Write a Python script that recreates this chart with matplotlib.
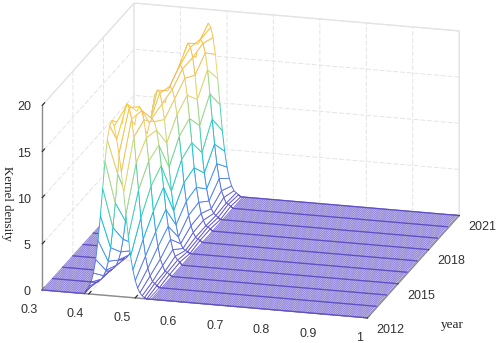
import numpy as np
import matplotlib
matplotlib.use("Agg")
import matplotlib.pyplot as plt
from matplotlib.colors import LinearSegmentedColormap, to_rgba

years = [2012, 2013, 2014, 2015, 2016, 2017, 2018, 2019, 2020, 2021]
xticks = [0.3, 0.4, 0.5, 0.6, 0.7, 0.8, 0.9, 1]
yticks = [2012, 2015, 2018, 2021]
zticks = [0, 5, 10, 15, 20]

# x positions of the peak columns, 0.395 ... 0.53
peak_x = [0.395, 0.400, 0.405, 0.410, 0.415, 0.420, 0.425, 0.430, 0.435, 0.440,
          0.445, 0.450, 0.455, 0.460, 0.465, 0.470, 0.475, 0.480, 0.485, 0.490,
          0.495, 0.500, 0.505, 0.510, 0.515, 0.520, 0.525, 0.530]
d2012 = [.4, .8, 1.3, 2.3, 3.8, 5.9, 8.6, 11.6, 14.6, 16.9, 18.4, 19, 18.4, 17, 15.5, 13.5, 11.3, 9, 6.6, 4.5, 3, 1.9, 1.1, .6, .3, .1, 0, 0]
d2013 = [0, .2, .4, .8, 1.4, 2.4, 3.9, 6.1, 8.8, 12, 15.1, 17.4, 19, 19.6, 19.2, 18, 16.1, 13.3, 10.4, 7.4, 5.1, 3.3, 2, 1.2, .6, .4, .2, 0]
d2014 = [0, 0, .2, .4, .7, 1.3, 2.2, 3.6, 5.6, 8.1, 11, 13.9, 16.1, 17.6, 18.1, 17.7, 16.7, 14.8, 12.3, 9.6, 6.9, 4.7, 3.1, 1.8, 1.1, .5, .4, .2]
d2015 = [0, 0, 0, .2, .3, .6, 1.1, 1.9, 3.1, 4.8, 7, 9.5, 12, 13.9, 15.1, 15.6, 15.3, 14.4, 12.8, 10.6, 8.3, 5.9, 4.1, 2.7, 1.6, .9, .5, .3]
d2016 = [0, .2, .3, .7, 1.2, 2.1, 3.5, 5.4, 7.8, 10.6, 13.4, 15.5, 16.9, 17.4, 17.1, 16, 14.3, 11.8, 9.2, 6.6, 4.5, 3, 1.7, 1, .5, .3, .2, 0]
d2017 = [0, 0, .2, .3, .7, 1.2, 2, 3.3, 5.1, 7.5, 10.1, 12.8, 14.8, 16.1, 16.6, 16.3, 15.3, 13.6, 11.3, 8.8, 6.3, 4.3, 2.8, 1.7, 1, .5, .3, .2]
d2018 = [0, 0, .2, .4, .7, 1.2, 2.1, 3.5, 5.5, 8, 10.8, 13.6, 15.8, 17.2, 17.7, 17.3, 16.3, 14.5, 12, 9.4, 6.7, 4.6, 3, 1.8, 1.1, .5, .4, .2]
d2019 = [0, .2, .4, .8, 1.3, 2.3, 3.8, 5.8, 8.5, 11.5, 14.5, 16.7, 18.2, 18.8, 18.4, 17.3, 15.4, 12.8, 10, 7.1, 4.9, 3.2, 1.9, 1.1, .6, .4, .2, 0]
d2020 = [0, 0, .2, .4, .7, 1.3, 2.2, 3.6, 5.6, 8.1, 11, 13.9, 16, 17.5, 18, 17.6, 16.6, 14.8, 12.2, 9.5, 6.8, 4.7, 3.1, 1.8, 1.1, .5, .4, .2]
d2021 = [0, .2, .4, .7, 1.3, 2.2, 3.7, 5.7, 8.3, 11.3, 14.2, 16.5, 17.9, 18.5, 18.1, 17, 15.2, 12.6, 9.8, 7, 4.8, 3.1, 1.9, 1.1, .6, .4, .2, 0]
density = [d2012, d2013, d2014, d2015, d2016, d2017, d2018, d2019, d2020, d2021]

# density is flat zero away from the peak, only the mesh columns go on
floor_left = np.arange(0.3, 0.394, 0.0035)
floor_right = np.arange(0.535, 1.0001, 0.0035)
xs = np.concatenate([floor_left, peak_x, floor_right])
zs = np.array([np.concatenate([np.zeros(len(floor_left)), d, np.zeros(len(floor_right))]) for d in density])

cmap = LinearSegmentedColormap.from_list("kd", [
    (0.00, "#6a5acd"), (0.18, "#4f86f0"), (0.38, "#10c8d4"), (0.55, "#6cd494"),
    (0.72, "#e6d870"), (0.86, "#f8b850"), (1.00, "#ffe020")])

plt.rcParams["font.family"] = ["Liberation Sans", "DejaVu Sans"]
plt.rcParams["grid.color"] = "#e4e4e4"
plt.rcParams["grid.linewidth"] = 0.7
plt.rcParams["grid.linestyle"] = (0, (5, 2))
plt.rcParams["axes.linewidth"] = 0.9

fig = plt.figure(figsize=(4.98, 3.43), dpi=100)
ax = fig.add_axes([-0.032, -0.048, 1.05, 1.13], projection="3d", computed_zorder=False)
ax.set_proj_type("ortho")
ax.view_init(elev=18, azim=-74.5)
ax.set_box_aspect((338, 344, 194.5), zoom=1.30)
ax.set_xlim(0.3, 1, view_margin=0)
ax.set_ylim(2012, 2021, view_margin=0)
ax.set_zlim(0, 20, view_margin=0)

# back to front, each strip painted over the ones behind it
n = len(years)
for k in range(n - 1, 0, -1):
    X, Y = np.meshgrid(xs, [years[k - 1], years[k]])
    Z = zs[[k - 1, k]]
    surf = ax.plot_surface(X, Y, Z, rstride=1, cstride=1, color="white", shade=False,
                           linewidth=0.65, zorder=2 * (n - k))
    mid = (Z[0, :-1] + Z[0, 1:] + Z[1, :-1] + Z[1, 1:]) / 4
    edge = cmap(mid / 20)
    edge[mid == 0] = to_rgba("#8f82d8")
    surf.set_edgecolor(edge)
    surf.set_clip_on(False)
for k in range(n):
    flat = zs[k] == 0
    first = np.argmax(~flat)
    last = len(xs) - np.argmax(~flat[::-1]) - 1
    for part in (np.arange(0, first + 1), np.arange(last, len(xs))):
        ax.plot(xs[part], np.full(len(part), years[k]), zs[k][part], color="#5d4ec4",
                lw=0.9, zorder=2 * (n - k) + 1, clip_on=False)

for axis in (ax.xaxis, ax.yaxis, ax.zaxis):
    axis.set_pane_color((1, 1, 1, 1))
    axis.pane.set_edgecolor("#e4e4e4")
    axis.line.set_color("#8c8c8c")
    axis.line.set_linewidth(1.0)
    axis._axinfo["tick"]["color"] = "#8c8c8c"
    axis._axinfo["tick"]["linewidth"] = {True: 0.9, False: 0.5}
    axis._axinfo["tick"]["inward_factor"] = 0
    axis._axinfo["tick"]["outward_factor"] = 0.3

ax.zaxis.set_ticks_position("lower")

ax.set_xticks(xticks)
ax.set_xticklabels(["0.3", "0.4", "0.5", "0.6", "0.7", "0.8", "0.9", "1"], ha="right")
ax.set_yticks(yticks)
ax.set_yticklabels([str(y) for y in yticks], ha="left")
ax.set_zticks(zticks)
ax.set_zticklabels([str(z) for z in zticks], ha="right", va="center")
ax.tick_params(labelsize=9, colors="#333333", pad=0)
ax.tick_params(axis="x", pad=-1)
ax.tick_params(axis="y", pad=-4)
ax.tick_params(axis="z", pad=-4)

fig.text(7 / 498, 1 - 204 / 343, "Kernel density", rotation=-90, family="Liberation Serif",
         fontsize=9.2, color="#222222", ha="center", va="center")
fig.text(452 / 498, 1 - 325 / 343, "year", family="Liberation Serif", fontsize=9.5,
         color="#222222", ha="center", va="center")

fig.savefig("out.png", dpi=100)
